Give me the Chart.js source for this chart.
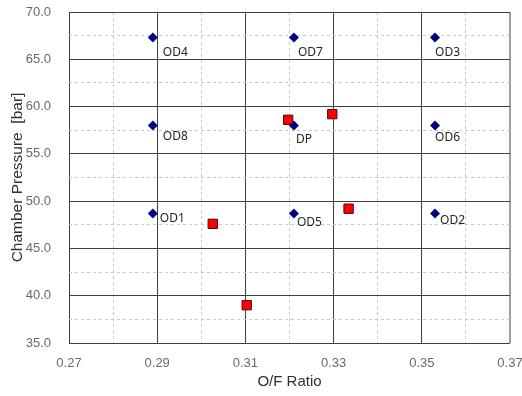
<!DOCTYPE html>
<html><head><meta charset="utf-8">
<script src="https://cdn.jsdelivr.net/npm/chart.js@4.4.1/dist/chart.umd.min.js"></script>
<style>html,body{margin:0;padding:0;background:#fff}</style>
</head><body>
<canvas id="c" width="522" height="396"></canvas>
<script>
// Operating design points (blue diamonds)
const pointNames = ['OD4', 'OD7', 'OD3', 'OD8', 'DP', 'OD6', 'OD1', 'OD5', 'OD2'];
const pointOF = [0.289, 0.321, 0.353, 0.289, 0.321, 0.353, 0.289, 0.321, 0.353];
const pointPc = [67.3, 67.3, 67.3, 58.0, 58.0, 58.0, 48.7, 48.7, 48.7];
// Test points (red squares)
const testOF = [0.3197, 0.3297, 0.3026, 0.3334, 0.3103];
const testPc = [58.6, 59.2, 47.6, 49.2, 39.0];
// Grid / tick values
const xTicks = [0.27, 0.28, 0.29, 0.30, 0.31, 0.32, 0.33, 0.34, 0.35, 0.36, 0.37];
const yTicks = [35, 37.5, 40, 42.5, 45, 47.5, 50, 52.5, 55, 57.5, 60, 62.5, 65, 67.5, 70];

// label offsets in pixels (style only)
const labelOffsets = [[10, 15], [4, 15], [0, 15], [10, 11], [2, 14], [0, 12], [7, 5], [3, 9], [5, 7]];

const isMajorX = v => Math.round(v * 100) % 2 === 1;
const isMajorY = v => Math.abs(v % 5) < 1e-9;

const labelPlugin = {
  id: 'pointLabels',
  afterDatasetsDraw(chart) {
    const meta = chart.getDatasetMeta(0);
    const ctx = chart.ctx;
    ctx.save();
    ctx.font = '12px "Noto Sans"';
    ctx.fillStyle = '#262626';
    ctx.textAlign = 'left';
    ctx.textBaseline = 'middle';
    meta.data.forEach((el, i) => {
      const o = labelOffsets[i];
      ctx.fillText(pointNames[i], el.x + o[0], el.y + o[1]);
    });
    ctx.restore();
  }
};

new Chart(document.getElementById('c'), {
  type: 'scatter',
  data: {
    datasets: [
      {
        label: 'Design points',
        data: pointOF.map((x, i) => ({ x, y: pointPc[i] })),
        pointStyle: 'rectRot',
        pointRadius: 5,
        pointHoverRadius: 5,
        backgroundColor: '#000080',
        borderColor: '#000080',
        borderWidth: 0
      },
      {
        label: 'Tests',
        data: testOF.map((x, i) => ({ x, y: testPc[i] })),
        pointStyle: 'rect',
        pointRadius: 6.6,
        pointHoverRadius: 6.6,
        backgroundColor: '#ff0000',
        borderColor: '#600000',
        borderWidth: 1
      }
    ]
  },
  options: {
    responsive: false,
    animation: false,
    devicePixelRatio: 1,
    layout: { padding: { top: 12, right: 12, left: 0, bottom: 0 } },
    plugins: { legend: { display: false }, tooltip: { enabled: false } },
    scales: {
      x: {
        type: 'linear',
        min: 0.27, max: 0.37,
        afterBuildTicks: s => { s.ticks = xTicks.map(v => ({ value: v })); },
        afterFit: s => { s.height = 53; s.paddingLeft = 0; s.paddingRight = 0; },
        border: { display: false, dash: c => (c.tick && isMajorX(c.tick.value)) ? [] : [3, 3] },
        grid: {
          drawTicks: false,
          color: c => {
            const v = c.tick.value;
            if (Math.abs(v - 0.37) < 1e-9) return '#a0a0a0';
            return isMajorX(v) ? '#404040' : '#c8c8c8';
          },
          lineWidth: c => Math.abs(c.tick.value - 0.37) < 1e-9 ? 2 : 1
        },
        ticks: {
          autoSkip: false, maxRotation: 0, padding: 13,
          color: '#6a6a6a',
          font: { family: '"Liberation Sans", Arial, sans-serif', size: 13 },
          callback: v => isMajorX(v) ? v.toFixed(2) : ''
        },
        title: {
          display: true, text: 'O/F Ratio', color: '#303030',
          font: { family: '"Liberation Sans", Arial, sans-serif', size: 15 },
          padding: { top: 0, bottom: 5 }
        }
      },
      y: {
        type: 'linear',
        min: 35, max: 70,
        afterBuildTicks: s => { s.ticks = yTicks.map(v => ({ value: v })); },
        afterFit: s => { s.width = 69; s.paddingTop = 0; s.paddingBottom = 0; },
        border: { display: false, dash: c => (c.tick && isMajorY(c.tick.value)) ? [] : [3, 3] },
        grid: {
          drawTicks: false,
          color: c => isMajorY(c.tick.value) ? '#404040' : '#c8c8c8',
          lineWidth: 1
        },
        ticks: {
          autoSkip: false, padding: 18,
          color: '#6a6a6a',
          font: { family: '"Liberation Sans", Arial, sans-serif', size: 13 },
          callback: v => isMajorY(v) ? v.toFixed(1) : ''
        },
        title: {
          display: true, text: 'Chamber Pressure  [bar]', color: '#303030',
          font: { family: '"Liberation Sans", Arial, sans-serif', size: 15.5 },
          padding: { top: 8, bottom: 0 }
        }
      }
    }
  },
  plugins: [labelPlugin]
});
</script>
</body></html>
